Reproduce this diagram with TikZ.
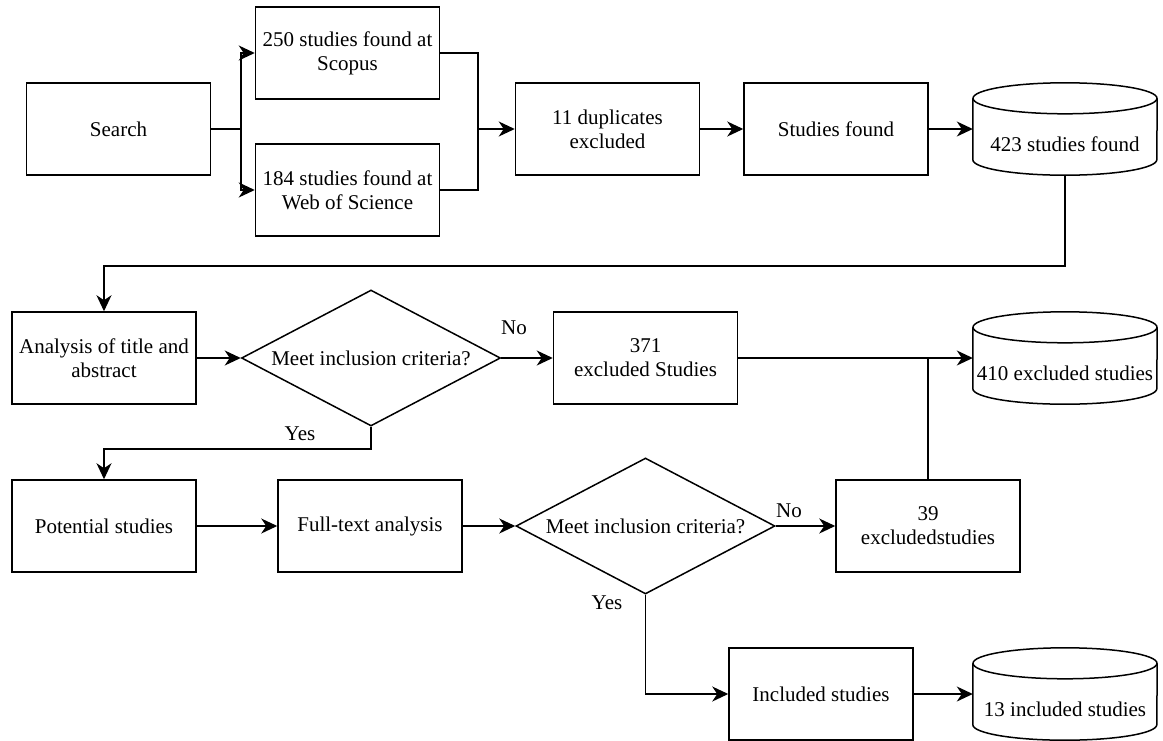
\documentclass[tikz,border=0pt]{standalone}
\usepackage{fontspec}
\setmainfont{Liberation Serif}
\newfontfamily\flowfont{Liberation Serif}
\usetikzlibrary{arrows.meta,shapes.geometric}

% flowchart styles
\tikzset{
  ln/.style={line width=1.5pt, draw=black},
  arr/.style={ln, -{Stealth[length=16pt,width=15pt,inset=5pt]}},
  txt/.style={font=\flowfont\fontsize{21}{24}\selectfont, align=center, inner sep=0pt},
  stepbox/.style={txt, draw=black, line width=1.5pt, rectangle,
    minimum width=184pt, minimum height=92pt},
  dbbox/.style={rectangle, inner sep=0pt, minimum width=184pt, minimum height=92pt},
  decision/.style={diamond, draw=black, line width=1.5pt, inner sep=0pt,
    minimum width=259pt, minimum height=136pt},
}

% database cylinder drawn around a dbbox node
\newcommand\drawdb[1]{%
  \draw[ln] ([yshift=-15.5pt]#1.north) ellipse [x radius=92pt, y radius=15.5pt];
  \draw[ln] ([yshift=-15.5pt]#1.north west) -- ([yshift=15.5pt]#1.south west)
    arc[start angle=180, end angle=360, x radius=92pt, y radius=15.5pt]
    -- ([yshift=-15.5pt]#1.north east);}

\begin{document}
\begin{tikzpicture}[x=1pt, y=-1pt]
\fill[white] (0,0) rectangle (1163,740);
\useasboundingbox (0,0) rectangle (1163,740);

% search stage
\node[stepbox] (search) at (118.5,129) {Search};
\node[stepbox] (scopus) at (347.5,53) {250 studies found at\\Scopus};
\node[stepbox] (wos) at (347.5,190) {184 studies found at\\Web of Science};
\node[stepbox] (dup) at (607.5,129) {11 duplicates\\excluded};
\node[stepbox] (found) at (836,129) {Studies found};
\node[dbbox] (db1) at (1065,129) {};
\drawdb{db1}
\node[txt] (db1t) at ([yshift=-15pt]db1.center) {423 studies found};

% title and abstract screening
\node[stepbox] (analysis) at (104,358) {Analysis of title and\\abstract};
\node[decision] (d1) at (371,358) {};
\node[txt] (d1t) at (d1.center) {Meet inclusion criteria?};
\node[stepbox] (ex371) at (645.5,358) {371\\excluded Studies};
\node[dbbox] (db2) at (1065,358) {};
\drawdb{db2}
\node[txt] (db2t) at ([yshift=-15pt]db2.center) {410 excluded studies};

% full-text screening
\node[stepbox] (potential) at (104,526) {Potential studies};
\node[stepbox] (full) at (370,526) {Full-text analysis};
\node[decision] (d2) at (645.5,526) {};
\node[txt] (d2t) at (d2.center) {Meet inclusion criteria?};
\node[stepbox] (ex39) at (928,526) {39\\excludedstudies};
\node[stepbox] (inc) at (821,694) {Included studies};
\node[dbbox] (db3) at (1065,694) {};
\drawdb{db3}
\node[txt] (db3t) at ([yshift=-15pt]db3.center) {13 included studies};

% decision labels
\node[txt] (no1) at (514,328) {No};
\node[txt] (yes1) at (300,434) {Yes};
\node[txt] (no2) at (789,511) {No};
\node[txt] (yes2) at (607,603) {Yes};

% connectors
\coordinate (fork) at (241,129);
\coordinate (merge) at (478,129);
\draw[ln] (search.east) -- (fork);
\draw[arr] (fork) |- (scopus.west);
\draw[arr] (fork) |- (wos.west);
\draw[ln] (scopus.east) -| (merge);
\draw[ln] (wos.east) -| (merge);
\draw[arr] (merge) -- (dup.west);
\draw[arr] (dup.east) -- (found.west);
\draw[arr] (found.east) -- (db1.west);

\coordinate (back) at (1065,266);
\draw[arr] (db1.south) -- (back) -| (analysis.north);
\draw[arr] (analysis.east) -- (d1.west);
\draw[arr] (d1.east) -- (ex371.west);
\draw[arr] (ex371.east) -- (db2.west);
\draw[ln] (ex39.north) -- (ex39.north |- ex371.east);

\coordinate (yesturn) at (371,449);
\draw[arr] (d1.south) -- (yesturn) -| (potential.north);
\draw[arr] (potential.east) -- (full.west);
\draw[arr] (full.east) -- (d2.west);
\draw[arr] (d2.east) -- (ex39.west);
\draw[arr] (d2.south) |- (inc.west);
\draw[arr] (inc.east) -- (db3.west);
\end{tikzpicture}
\end{document}
